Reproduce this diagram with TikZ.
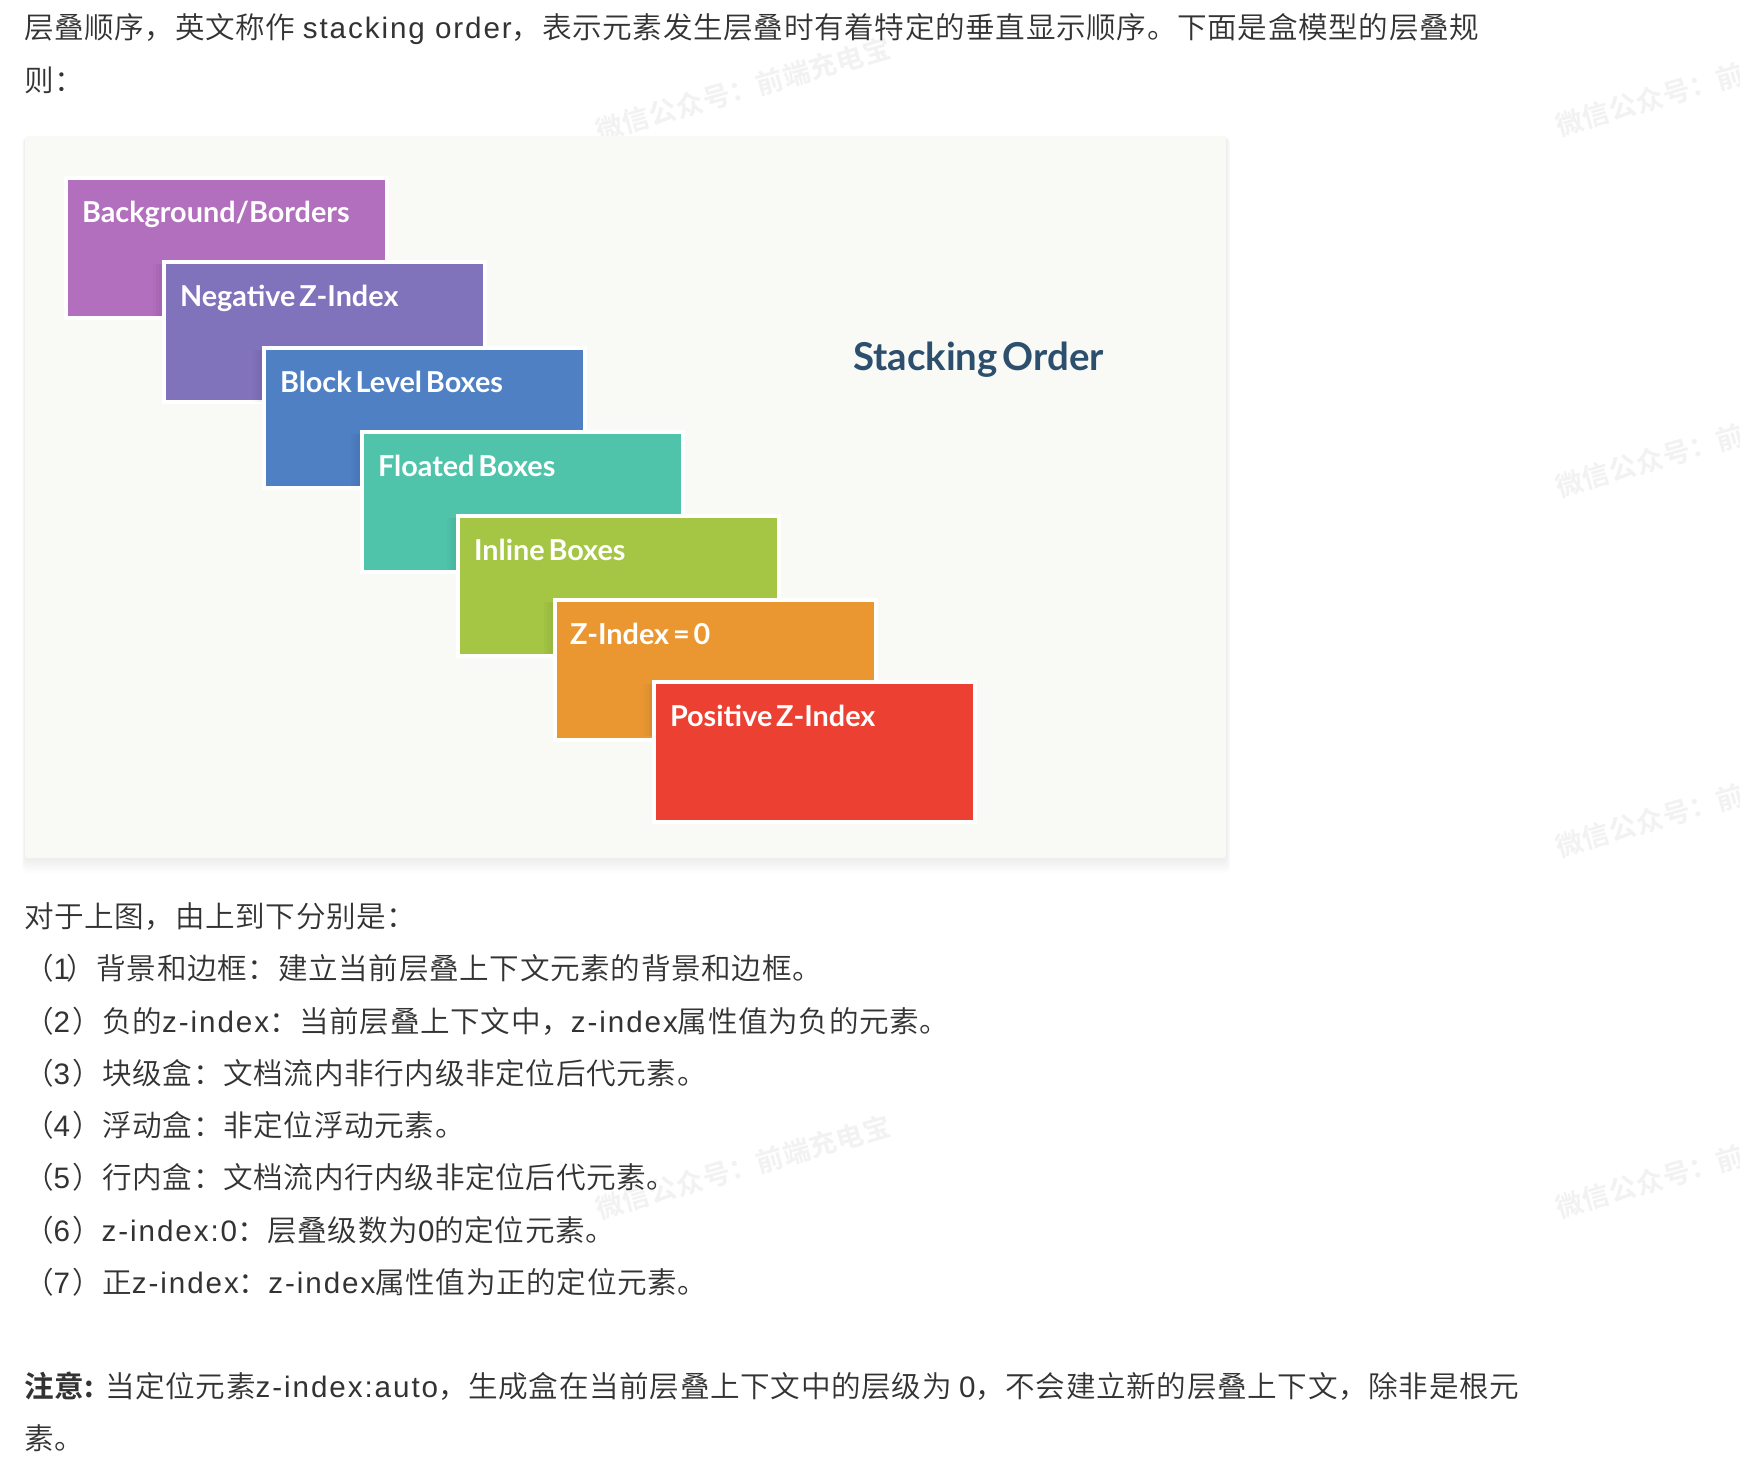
\documentclass[tikz,border=0pt]{standalone}
\usepackage{fontspec}
\setmainfont[LetterSpace=2.2, UprightFont=* DemiLight, BoldFont=* Bold]{Noto Sans CJK SC}
\newfontfamily\ltn[LetterSpace=6.5]{Liberation Sans}
\newfontfamily\boxfont[WordSpace=0.55]{Lato}
\newcommand{\lat}[1]{{\ltn #1}}
\newcommand{\nmark}[1]{（\lat{#1}\hspace{1.5pt}）}
\definecolor{bodytext}{HTML}{333333}
\definecolor{markgray}{HTML}{F2F2F2}
\definecolor{panelbg}{HTML}{F9F9F6}
\definecolor{titleblue}{HTML}{2D4F6E}
\definecolor{bgpurple}{HTML}{B26FBD}
\definecolor{negviolet}{HTML}{8172BC}
\definecolor{blockblue}{HTML}{4E80C3}
\definecolor{floatteal}{HTML}{4FC4AB}
\definecolor{inlinegreen}{HTML}{A5C545}
\definecolor{zeroorange}{HTML}{EA9732}
\definecolor{posred}{HTML}{EC4033}
\tikzset{
  line/.style={anchor=base west, text=bodytext, font=\fontsize{22.2}{26}\selectfont},
  watermark/.style={rotate=16, text=markgray, font=\fontsize{20.4}{24}\bfseries},
  stackbox/.style={minimum width=321*0.75pt, minimum height=140*0.75pt, draw=white, line width=3pt},
  boxlabel/.style={anchor=base west, text=white, font=\boxfont\bfseries\fontsize{21.6}{26}\selectfont}
}

\begin{document}
\begin{tikzpicture}[x=0.75pt, y=-0.75pt, every node/.style={inner sep=0pt, outer sep=0pt}]
\useasboundingbox[fill=white] (0,0) rectangle (1740,1470);
% watermarks behind everything
\foreach \i/\wx/\wy in {1/743/89, 2/1703/84, 3/1703/445, 4/1703/805, 5/743/1167, 6/1703/1166}
  \node[watermark] (mark\i) at (\wx,\wy) {微信公众号：前端充电宝};
% panel with soft shadow
\foreach \g in {1,...,9}
  \fill[black, opacity=0.007, rounded corners=4pt] (25-\g*0.3,136+\g*0.1) rectangle (1226+\g*0.5,858+\g*1.7);
\node[fill=panelbg, rounded corners=2pt, minimum width=1201*0.75pt, minimum height=722*0.75pt] (panel) at (625.5,497) {};
% stacked boxes, lowest first, each darkening the box under it on its left
\node[stackbox, fill=bgpurple] (bgbox) at (226.5,248) {};
\foreach \name/\cx/\cy/\col in {negbox/324.5/332/negviolet, blockbox/424.5/418/blockblue,
    floatbox/522.5/502/floatteal, inlinebox/618.5/586/inlinegreen, zerobox/715.5/670/zeroorange, posbox/814.5/752/posred} {
  \foreach \s in {3,6,9,12}
    \fill[black, opacity=0.02] (\cx-160-\s,\cy-68) rectangle (\cx-160,\cy-16);
  \node[stackbox, fill=\col] (\name) at (\cx,\cy) {};
}
\node[boxlabel] (bglabel) at (82,222) {Background/Borders};
\node[boxlabel] (neglabel) at (180,306) {Negative Z-Index};
\node[boxlabel] (blocklabel) at (280,392) {Block Level Boxes};
\node[boxlabel] (floatlabel) at (378,476) {Floated Boxes};
\node[boxlabel] (inlinelabel) at (474,560) {Inline Boxes};
\node[boxlabel] (zerolabel) at (570,644) {Z-Index = 0};
\node[boxlabel] (poslabel) at (670,726) {Positive Z-Index};
\node[anchor=base west, text=titleblue, font=\boxfont\bfseries\fontsize{28.8}{34}\selectfont] (title) at (853,370) {Stacking Order};
% text above the panel
\node[line] (intro) at (24,39) {层叠顺序，英文称作 \lat{stacking order}，表示元素发生层叠时有着特定的垂直显示顺序。下面是盒模型的层叠规};
\node[line] (introtail) at (24,91) {则：};
% text below the panel
\node[line] (lead) at (24,927) {对于上图，由上到下分别是：};
\node[line] (item1) at (24,979) {（\lat{1}\hspace{-2.8pt}）背景和边框：建立当前层叠上下文元素的背景和边框。};
\node[line] (item2) at (24,1032) {\nmark{2}负的\lat{z-index}：当前层叠上下文中，\lat{z-index}属性值为负的元素。};
\node[line] (item3) at (24,1084) {\nmark{3}块级盒：文档流内非行内级非定位后代元素。};
\node[line] (item4) at (24,1136) {\nmark{4}浮动盒：非定位浮动元素。};
\node[line] (item5) at (24,1188) {\nmark{5}行内盒：文档流内行内级非定位后代元素。};
\node[line] (item6) at (24,1241) {\nmark{6}\lat{z-index:0}：层叠级数为\lat{0}的定位元素。};
\node[line] (item7) at (24,1293) {\nmark{7}正\lat{z-index}：\lat{z-index}属性值为正的定位元素。};
\node[line] (note) at (24,1397) {\textbf{注意:}\hspace{0.5pt} 当定位元素\lat{z-index:auto}，生成盒在当前层叠上下文中的层级为 \lat{0}，不会建立新的层叠上下文，除非是根元};
\node[line] (notetail) at (24,1449) {素。};
\end{tikzpicture}
\end{document}
